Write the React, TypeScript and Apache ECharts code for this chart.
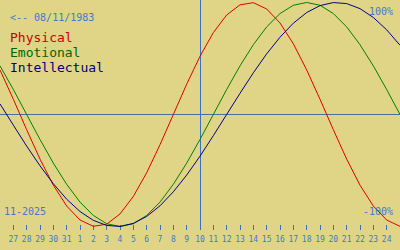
import React, { useEffect, useRef } from "react";
import * as echarts from "echarts";

// Day labels: index 0 = 26 Oct 2025 ... index 30 = 25 Nov 2025
const dayLabels = [
  "26", "27", "28", "29", "30", "31",
  "1", "2", "3", "4", "5", "6", "7", "8", "9", "10",
  "11", "12", "13", "14", "15", "16", "17", "18", "19", "20",
  "21", "22", "23", "24", "25",
];

// Biorhythm values (%), one per day
const physical = [
  39.8, 13.6, -13.6, -39.8, -63.1, -81.7, -94.2, -99.8, -97.9, -88.8, -73.1,
  -52.0, -27.0, 0, 27.0, 52.0, 73.1, 88.8, 97.9, 99.8, 94.2, 81.7, 63.1, 39.8,
  13.6, -13.6, -39.8, -63.1, -81.7, -94.2, -99.8,
];
const emotional = [
  43.4, 22.3, 0, -22.3, -43.4, -62.3, -78.2, -90.1, -97.5, -100, -97.5, -90.1,
  -78.2, -62.3, -43.4, -22.3, 0, 22.3, 43.4, 62.3, 78.2, 90.1, 97.5, 100, 97.5,
  90.1, 78.2, 62.3, 43.4, 22.3, 0,
];
const intellectual = [
  9.5, -9.5, -28.2, -45.8, -61.8, -75.6, -86.6, -94.5, -99.0, -99.9, -97.2,
  -91.0, -81.5, -69.0, -54.1, -37.2, -18.9, 0, 18.9, 37.2, 54.1, 69.0, 81.5,
  91.0, 97.2, 99.9, 99.0, 94.5, 86.6, 75.6, 61.8,
];

const seriesNames = ["Physical", "Emotional", "Intellectual"];
const todayIndex = 15; // 10 Nov
const birthText = "<-- 08/11/1983";
const monthText = "11-2025";
const topText = "100%";
const bottomText = "-100%";

const BG = "#e0d486";
const BLUE_TEXT = "#4479cc";
const LINE_COLORS = ["#e00000", "#008000", "#000088"];
const TEXT_COLORS = ["#cc0000", "#006600", "#000080"];
const MONO = "'DejaVu Sans Mono', 'Liberation Mono', monospace";

export default function App() {
  const ref = useRef<HTMLDivElement>(null);

  useEffect(() => {
    if (!ref.current) return;
    const chart = echarts.init(ref.current, null, { renderer: "svg" });
    const tickIdx = dayLabels.map((_, i) => i).filter((i) => i > 0 && i < dayLabels.length - 1);
    const allSeries = [physical, emotional, intellectual];

    chart.setOption({
      animation: false,
      backgroundColor: BG,
      grid: { left: 0, right: 0, top: 0, height: 230, containLabel: false },
      xAxis: {
        type: "value",
        position: "bottom",
        min: 0,
        max: dayLabels.length - 1,
        interval: 1,
        axisLine: { show: false, onZero: false },
        splitLine: { show: false },
        axisTick: {
          show: true,
          inside: true,
          length: 5,
          customValues: tickIdx,
          lineStyle: { color: "#3c70c0", width: 1 },
        },
        axisLabel: {
          customValues: tickIdx,
          formatter: (v: number) => dayLabels[Math.round(v)] ?? "",
          color: BLUE_TEXT,
          fontFamily: MONO,
          fontSize: 8,
          margin: 5,
        },
      },
      yAxis: {
        type: "value",
        min: -103.1,
        max: 102.2,
        show: false,
        splitLine: { show: false },
      },
      series: allSeries.map((arr, si) => ({
        name: seriesNames[si],
        type: "line",
        showSymbol: false,
        silent: true,
        smooth: false,
        lineStyle: { color: LINE_COLORS[si], width: 1 },
        itemStyle: { color: LINE_COLORS[si] },
        data: arr.map((v, i) => [i, v]),
        z: 3,
        markLine:
          si === 0
            ? {
                silent: true,
                symbol: "none",
                label: { show: false },
                z: 1,
                data: [
                  { yAxis: 0, lineStyle: { color: "#4a6ea0", width: 1, type: "solid" } },
                  { xAxis: todayIndex, lineStyle: { color: "#3a70c8", width: 1, type: "solid" } },
                ],
              }
            : undefined,
      })),
      graphic: [
        {
          type: "text",
          left: 10,
          top: 12,
          style: { text: birthText, fill: BLUE_TEXT, font: `10px ${MONO}` },
        },
        ...seriesNames.map((name, i) => ({
          type: "text",
          left: 10,
          top: 31 + i * 15,
          style: { text: name, fill: TEXT_COLORS[i], font: `13px ${MONO}` },
        })),
        {
          type: "text",
          right: 7,
          top: 6,
          style: { text: topText, fill: BLUE_TEXT, font: `10px ${MONO}` },
        },
        {
          type: "text",
          right: 7,
          top: 206,
          style: { text: bottomText, fill: BLUE_TEXT, font: `10px ${MONO}` },
        },
        {
          type: "text",
          left: 4,
          top: 206,
          style: { text: monthText, fill: BLUE_TEXT, font: `10px ${MONO}` },
        },
      ],
    });
    return () => chart.dispose();
  }, []);

  return (
    <div style={{ position: "fixed", left: 0, top: 0, width: 400, height: 250, margin: 0 }}>
      <div ref={ref} style={{ width: 400, height: 250 }} />
    </div>
  );
}
